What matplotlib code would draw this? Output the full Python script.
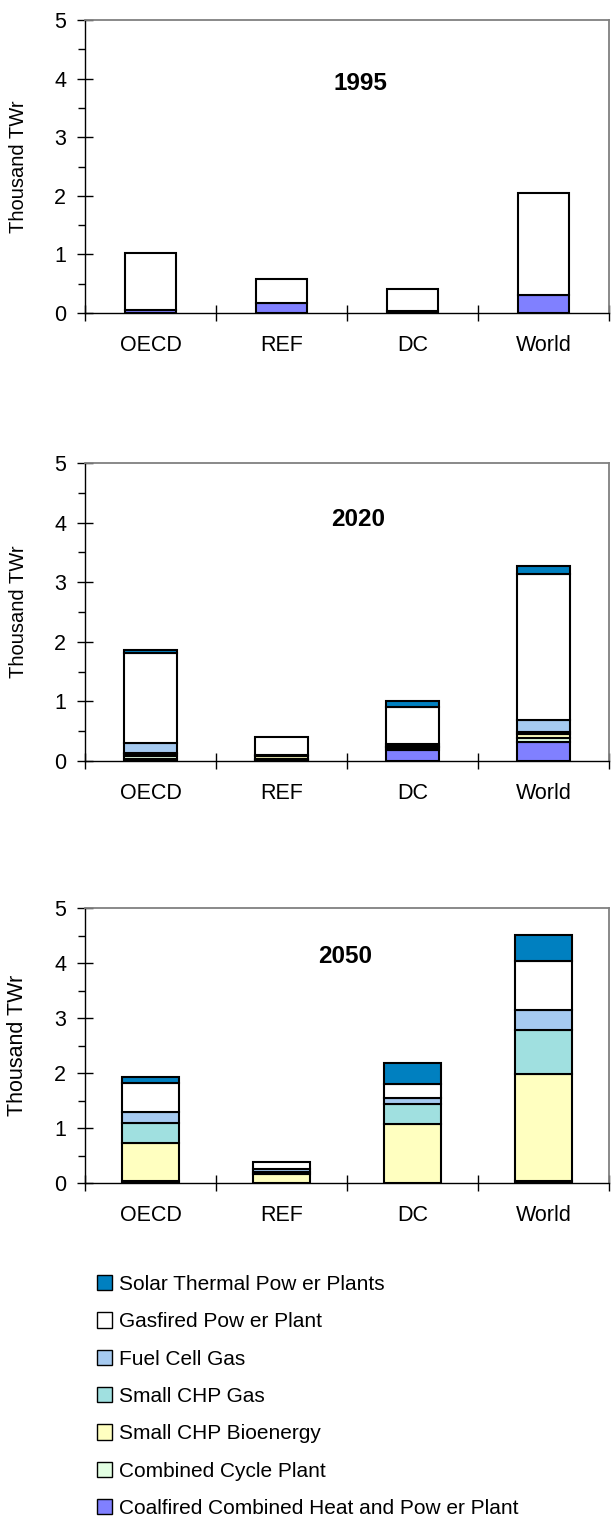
import matplotlib
matplotlib.use("Agg")
import matplotlib.pyplot as plt
from matplotlib.patches import Patch
from matplotlib.ticker import MultipleLocator, FixedLocator, NullFormatter

plt.rcParams['font.family'] = ['Liberation Sans', 'DejaVu Sans']

regions = ["OECD", "REF", "DC", "World"]
years = ["1995", "2020", "2050"]

series_names = [
    "Coalfired Combined Heat and Pow er Plant",
    "Combined Cycle Plant",
    "Small CHP Bioenergy",
    "Small CHP Gas",
    "Fuel Cell Gas",
    "Gasfired Pow er Plant",
    "Solar Thermal Pow er Plants",
]
series_colors = ["#8080ff", "#e3ffe3", "#ffffc0", "#a0e0e0",
                 "#a6caf0", "#ffffff", "#0080c0"]

# Thousand TWh, one row per year (1995, 2020, 2050), columns = regions
coal_chp = [[0.06, 0.18, 0.03, 0.31],
            [0.04, 0.02, 0.19, 0.32],
            [0.03, 0.00, 0.00, 0.04]]
combined_cycle = [[0.00, 0.00, 0.00, 0.00],
                  [0.04, 0.02, 0.03, 0.06],
                  [0.00, 0.00, 0.00, 0.00]]
chp_bio = [[0.00, 0.00, 0.00, 0.00],
           [0.03, 0.04, 0.02, 0.07],
           [0.69, 0.16, 1.07, 1.94]]
chp_gas = [[0.00, 0.00, 0.00, 0.00],
           [0.02, 0.01, 0.02, 0.03],
           [0.38, 0.04, 0.36, 0.80]]
fuel_cell = [[0.00, 0.00, 0.00, 0.00],
             [0.18, 0.01, 0.03, 0.20],
             [0.20, 0.06, 0.12, 0.37]]
gas_plant = [[0.97, 0.40, 0.38, 1.74],
             [1.50, 0.31, 0.61, 2.46],
             [0.51, 0.12, 0.25, 0.88]]
solar_thermal = [[0.00, 0.00, 0.00, 0.00],
                 [0.05, 0.00, 0.11, 0.14],
                 [0.11, 0.00, 0.38, 0.48]]

all_series = [coal_chp, combined_cycle, chp_bio, chp_gas,
              fuel_cell, gas_plant, solar_thermal]

fig = plt.figure(figsize=(6.13, 15.19), dpi=100)

panel_rects = [[0.1387, 0.7939, 0.8548, 0.1929],
               [0.1387, 0.4990, 0.8548, 0.1962],
               [0.1387, 0.2212, 0.8548, 0.1810]]
bar_widths = [0.39, 0.41, 0.43]
title_pos = [(0.525, 0.782), (0.521, 0.812), (0.496, 0.822)]
ylabel_sizes = [14.5, 14.5, 15.5]

x = [i + 0.5 for i in range(len(regions))]

for k, year in enumerate(years):
    ax = fig.add_axes(panel_rects[k])
    bottoms = [0.0] * len(regions)
    for series, color in zip(all_series, series_colors):
        vals = series[k]
        lws = [1.5 if v > 0 else 0 for v in vals]
        ax.bar(x, vals, bar_widths[k], bottom=bottoms, color=color,
               edgecolor="black", linewidth=lws, zorder=3)
        bottoms = [b + v for b, v in zip(bottoms, vals)]

    ax.set_xlim(0, 4)
    ax.set_ylim(0, 5)
    ax.xaxis.set_major_locator(FixedLocator([0, 1, 2, 3, 4]))
    ax.xaxis.set_major_formatter(NullFormatter())
    ax.xaxis.set_minor_locator(FixedLocator(x))
    ax.set_xticklabels(regions, minor=True)
    ax.yaxis.set_major_locator(MultipleLocator(1))
    ax.yaxis.set_minor_locator(MultipleLocator(0.5))
    ax.tick_params(axis="x", which="major", direction="inout", length=12,
                   width=1, color="black")
    ax.tick_params(axis="x", which="minor", length=0, pad=16, labelsize=15.5)
    ax.tick_params(axis="y", which="major", direction="inout", length=11,
                   width=1, pad=8, labelsize=15.5)
    ax.tick_params(axis="y", which="minor", direction="out", length=5,
                   width=1)
    for side in ("top", "right"):
        ax.spines[side].set_color("#808080")
        ax.spines[side].set_linewidth(1.3)
    for side in ("left", "bottom"):
        ax.spines[side].set_color("black")
        ax.spines[side].set_linewidth(1.0)

    ax.set_ylabel("Thousand TWr", fontsize=ylabel_sizes[k])
    ax.yaxis.set_label_coords(-0.108, 0.5)
    ax.text(title_pos[k][0], title_pos[k][1], year, transform=ax.transAxes,
            ha="center", va="center", fontsize=17.5, fontweight="bold")

handles = [Patch(facecolor=c, edgecolor="black", linewidth=1.0, label=n)
           for n, c in zip(series_names, series_colors)]
fig.legend(handles=handles[::-1], loc="upper left",
           bbox_to_anchor=(0.1273, 0.173), frameon=False, fontsize=15,
           handlelength=0.75, handleheight=0.75, handletextpad=0.3,
           labelspacing=0.88, borderpad=0.4)

fig.savefig("out.png", dpi=100)
